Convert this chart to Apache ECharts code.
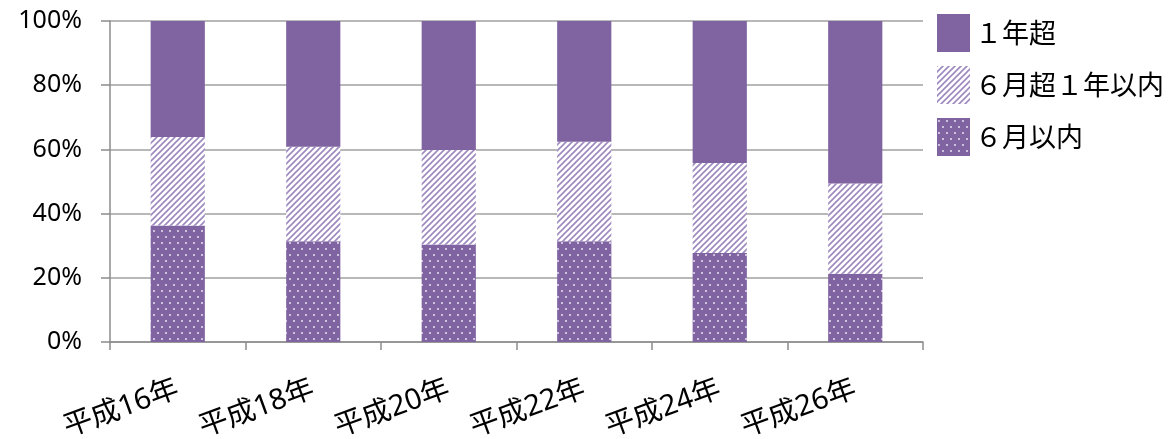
<!DOCTYPE html>
<html><head><meta charset="utf-8">
<script src="https://cdn.jsdelivr.net/npm/echarts@6/dist/echarts.min.js"></script>
<style>html,body{margin:0;padding:0;background:#fff}#c{width:1169px;height:439px}</style>
</head><body><div id="c"></div>
<script>
const categories = ['平成16年','平成18年','平成20年','平成22年','平成24年','平成26年'];
const within6m = [36.3, 31.4, 30.4, 31.4, 27.7, 21.3];
const from6mTo1y = [27.6, 29.4, 29.4, 31.0, 28.1, 28.1];
const over1y = [36.1, 39.2, 40.2, 37.6, 44.2, 50.6];
const seriesNames = ['１年超','６月超１年以内','６月以内'];
const yTicks = [0, 20, 40, 60, 80, 100];

const PURPLE = '#8064A2';
function hatchPattern(){
  const c = document.createElement('canvas'); c.width = 6; c.height = 6;
  const g = c.getContext('2d');
  g.fillStyle = '#fff'; g.fillRect(0,0,6,6);
  g.strokeStyle = '#9d88bf'; g.lineWidth = 1.6;
  g.beginPath();
  g.moveTo(-1,7); g.lineTo(7,-1);
  g.moveTo(-4,4); g.lineTo(4,-4);
  g.moveTo(2,10); g.lineTo(10,2);
  g.stroke();
  return {image: c, repeat: 'repeat'};
}
function dotPattern(){
  const c = document.createElement('canvas'); c.width = 8; c.height = 12;
  const g = c.getContext('2d');
  g.fillStyle = PURPLE; g.fillRect(0,0,8,12);
  g.fillStyle = '#e8e0f2';
  g.beginPath(); g.arc(2,3,1.0,0,Math.PI*2); g.fill();
  g.beginPath(); g.arc(6,9,1.0,0,Math.PI*2); g.fill();
  return {image: c, repeat: 'repeat'};
}

const chart = echarts.init(document.getElementById('c'), null, {renderer:'canvas'});
const fontFam = '"Noto Sans", "Noto Sans CJK JP", sans-serif';
chart.setOption({
  animation: false,
  grid: {left: 110, right: 246, top: 21, bottom: 97, outerBoundsMode: 'none', containLabel: false},
  legend: {
    orient: 'vertical', left: 932, top: 9,
    itemWidth: 33, itemHeight: 38, itemGap: 14,
    icon: 'rect',
    data: seriesNames,
    textStyle: {fontSize: 27, color: '#000', fontFamily: '"Noto Sans CJK JP", sans-serif'}
  },
  xAxis: {
    type: 'category', data: categories,
    axisLine: {lineStyle: {color: '#8c8c8c', width: 1.5}},
    axisTick: {show: true, length: 8, lineStyle: {color: '#8c8c8c', width: 1.5}},
    axisLabel: {rotate: 20, margin: 46, fontSize: 29, color: '#000', fontFamily: fontFam, interval: 0}
  },
  yAxis: {
    type: 'value', min: yTicks[0], max: yTicks[yTicks.length-1], interval: 20,
    axisLine: {show: true, lineStyle: {color: '#8c8c8c', width: 1.5}},
    axisTick: {show: true, length: 9, lineStyle: {color: '#8c8c8c', width: 1.5}},
    splitLine: {lineStyle: {color: '#a0a0a0', width: 1.5}},
    axisLabel: {formatter: '{value}%', fontSize: 25, color: '#000', margin: 28, fontFamily: fontFam}
  },
  series: [
    {name: seriesNames[2], type: 'bar', stack: 's', data: within6m, barWidth: '40%', itemStyle: {color: dotPattern()}},
    {name: seriesNames[1], type: 'bar', stack: 's', data: from6mTo1y, barWidth: '40%', itemStyle: {color: hatchPattern()}},
    {name: seriesNames[0], type: 'bar', stack: 's', data: over1y, barWidth: '40%', itemStyle: {color: PURPLE}}
  ]
});
</script></body></html>
